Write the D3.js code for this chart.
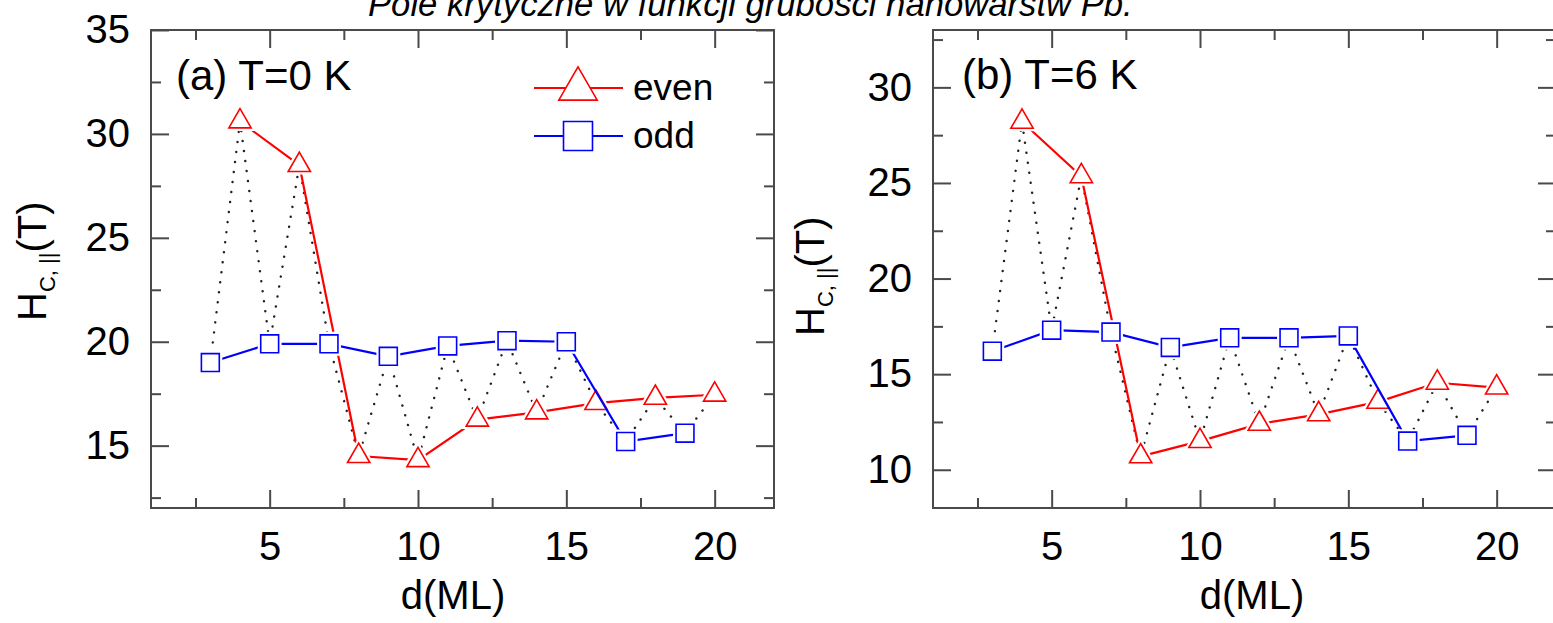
<!DOCTYPE html>
<html><head><meta charset="utf-8">
<script src="https://cdn.jsdelivr.net/npm/d3@7"></script>
<style>
body{margin:0;background:#fff;}
svg{display:block;}
text{font-family:"Liberation Sans",Arial,Helvetica,sans-serif;fill:#000;}
</style>
</head><body>
<svg id="chart" width="1553" height="623"></svg>
<script>
// ---------------- data ----------------
const titleText = "Pole krytyczne w funkcji grubości nanowarstw Pb.";
const evenD = [4, 6, 8, 10, 12, 14, 16, 18, 20];
const oddD  = [3, 5, 7, 9, 11, 13, 15, 17, 19];
// panel (a) T = 0 K
const evenA = [30.6, 28.5, 14.5, 14.3, 16.25, 16.6, 17.05, 17.3, 17.45];
const oddA  = [19.0, 19.9, 19.9, 19.3, 19.8, 20.05, 20.0, 15.2, 15.6];
// panel (b) T = 6 K
const evenB = [28.2, 25.35, 10.7, 11.5, 12.4, 12.9, 13.55, 14.55, 14.3];
const oddB  = [16.2, 17.3, 17.2, 16.4, 16.9, 16.9, 17.0, 11.5, 11.8];

const xMajor = [5, 10, 15, 20];
const xMinor = [2.5, 7.5, 12.5, 17.5];
const yMajorA = [15, 20, 25, 30, 35];
const yMajorB = [10, 15, 20, 25, 30];
const yMinor = [12.5, 17.5, 22.5, 27.5, 32.5];
const panelLabels = ["(a) T=0 K", "(b) T=6 K"];
const legendLabels = ["even", "odd"];
const xTitle = "d(ML)";

// ---------------- drawing ----------------
const svg = d3.select("#chart");
const RED = "#ff0000", BLUE = "#0000ff", FRAME = "#4a4a4a";

const title = svg.append("text")
  .attr("x", 368).attr("y", 16)
  .attr("font-size", 35).attr("font-style", "italic")
  .text(titleText);
const tl = title.node().getComputedTextLength();
title.attr("font-size", 35 * 765 / tl);

function panel(cfg) {
  const g = svg.append("g");
  const x = d3.scaleLinear().domain([1, 22]).range([cfg.x0, cfg.x1]);
  const y = d3.scaleLinear().domain(cfg.ydom).range([cfg.y1, cfg.y0]);

  const styleAxis = (sel) => {
    sel.select(".domain").remove();
    sel.selectAll(".tick line").attr("stroke", FRAME).attr("stroke-width", 2);
    sel.selectAll(".tick text").attr("font-size", 40).attr("fill", "#000")
      .style("font-family", '"Liberation Sans",Arial,sans-serif');
  };
  const yMin = yMinor.filter(v => v >= cfg.ydom[0] && v <= cfg.ydom[1]);
  g.append("g").attr("transform", `translate(0,${cfg.y1})`)
    .call(d3.axisBottom(x).tickValues(xMajor).tickSize(-18).tickPadding(24).tickFormat(d3.format("d")))
    .call(styleAxis);
  g.append("g").attr("transform", `translate(0,${cfg.y1})`)
    .call(d3.axisBottom(x).tickValues(xMinor).tickSize(-10).tickFormat(""))
    .call(styleAxis);
  g.append("g").attr("transform", `translate(0,${cfg.y0})`)
    .call(d3.axisTop(x).tickValues(xMajor).tickSize(-18).tickFormat(""))
    .call(styleAxis);
  g.append("g").attr("transform", `translate(0,${cfg.y0})`)
    .call(d3.axisTop(x).tickValues(xMinor).tickSize(-10).tickFormat(""))
    .call(styleAxis);
  g.append("g").attr("transform", `translate(${cfg.x0},0)`)
    .call(d3.axisLeft(y).tickValues(cfg.yMajor).tickSize(-18).tickPadding(21).tickFormat(d3.format("d")))
    .call(styleAxis);
  g.append("g").attr("transform", `translate(${cfg.x0},0)`)
    .call(d3.axisLeft(y).tickValues(yMin).tickSize(-10).tickFormat(""))
    .call(styleAxis);
  g.append("g").attr("transform", `translate(${cfg.x1},0)`)
    .call(d3.axisRight(y).tickValues(cfg.yMajor).tickSize(-18).tickFormat(""))
    .call(styleAxis);
  g.append("g").attr("transform", `translate(${cfg.x1},0)`)
    .call(d3.axisRight(y).tickValues(yMin).tickSize(-10).tickFormat(""))
    .call(styleAxis);

  g.append("rect").attr("x", cfg.x0).attr("y", cfg.y0)
    .attr("width", cfg.x1 - cfg.x0).attr("height", cfg.y1 - cfg.y0)
    .attr("fill", "none").attr("stroke", FRAME).attr("stroke-width", 2);

  const even = evenD.map((d, i) => ({d, v: cfg.even[i]}));
  const odd = oddD.map((d, i) => ({d, v: cfg.odd[i]}));
  const all = even.concat(odd).sort((a, b) => a.d - b.d);
  const line = d3.line().x(p => x(p.d)).y(p => y(p.v));

  g.append("path").attr("d", line(all)).attr("fill", "none")
    .attr("stroke", "#222").attr("stroke-width", 2.4)
    .attr("stroke-linecap", "round").attr("stroke-dasharray", "0.1,10");

  const triSym = d3.symbol().type(d3.symbolTriangle).size(215);
  const sqSym = d3.symbol().type(d3.symbolSquare).size(320);

  function series(data, color, sym) {
    g.append("path").attr("d", line(data)).attr("fill", "none")
      .attr("stroke", color).attr("stroke-width", 2.2);
    g.selectAll(null).data(data).enter().append("path")
      .attr("d", sym).attr("transform", p => `translate(${x(p.d)},${y(p.v)})`)
      .attr("fill", "#fff").attr("stroke", "#fff").attr("stroke-width", 6);
    g.selectAll(null).data(data).enter().append("path")
      .attr("d", sym).attr("transform", p => `translate(${x(p.d)},${y(p.v)})`)
      .attr("fill", "#fff").attr("stroke", color).attr("stroke-width", 1.6);
  }
  series(even, RED, triSym);
  series(odd, BLUE, sqSym);

  g.append("text").attr("x", cfg.labX).attr("y", cfg.labY)
    .attr("font-size", 42).text(cfg.label);

  g.append("text").attr("x", cfg.xtX).attr("y", 609)
    .attr("text-anchor", "middle").attr("font-size", 40).text(xTitle);

  const yt = g.append("text")
    .attr("transform", `translate(${cfg.ytX},${cfg.ytY}) rotate(-90)`)
    .attr("font-size", 40);
  yt.append("tspan").text("H");
  yt.append("tspan").attr("font-size", 22).attr("dy", 9).text("C, ||");
  yt.append("tspan").attr("dy", -9).text("(T)");

  return {g, x, y};
}

panel({x0: 151, x1: 774, y0: 30, y1: 508, ydom: [12, 35], yMajor: yMajorA,
  even: evenA, odd: oddA, label: panelLabels[0], labX: 176, labY: 90,
  xtX: 453, ytX: 46, ytY: 321});
panel({x0: 933, x1: 1556, y0: 30, y1: 508, ydom: [8, 33], yMajor: yMajorB,
  even: evenB, odd: oddB, label: panelLabels[1], labX: 962, labY: 89,
  xtX: 1252, ytX: 824, ytY: 336});

const lg = svg.append("g");
const legItems = [
  {label: legendLabels[0], color: RED, sym: d3.symbol().type(d3.symbolTriangle).size(640), y: 88, sy: 89},
  {label: legendLabels[1], color: BLUE, sym: d3.symbol().type(d3.symbolSquare).size(840), y: 136, sy: 136}
];
legItems.forEach(it => {
  lg.append("line").attr("x1", 534).attr("x2", 623).attr("y1", it.y).attr("y2", it.y)
    .attr("stroke", it.color).attr("stroke-width", 2.2);
  lg.append("path").attr("d", it.sym).attr("transform", `translate(578,${it.sy})`)
    .attr("fill", "#fff").attr("stroke", it.color).attr("stroke-width", 1.6);
  lg.append("text").attr("x", 633).attr("y", it.y + 12).attr("font-size", 37).text(it.label);
});
</script>
</body></html>
